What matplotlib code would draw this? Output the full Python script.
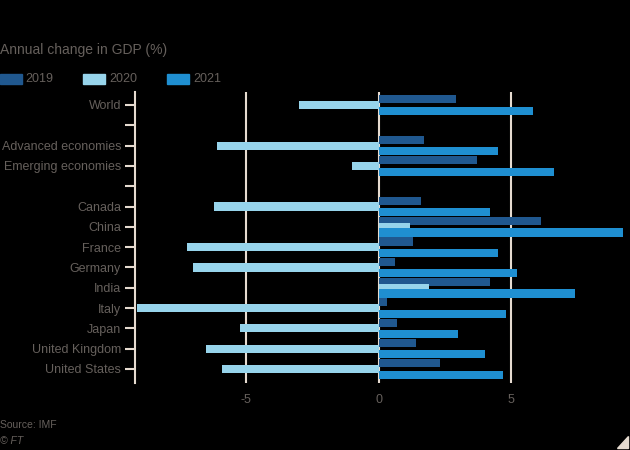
import matplotlib
matplotlib.use('Agg')
import matplotlib.pyplot as plt
from matplotlib.patches import Rectangle, Polygon
import numpy as np

# IMF GDP growth, % annual change
regions = ['World', '', 'Advanced economies', 'Emerging economies', '',
           'Canada', 'China', 'France', 'Germany', 'India', 'Italy',
           'Japan', 'United Kingdom', 'United States']
g2019 = [2.9, np.nan, 1.7, 3.7, np.nan, 1.6, 6.1, 1.3, 0.6, 4.2, 0.3, 0.7, 1.4, 2.3]
g2020 = [-3.0, np.nan, -6.1, -1.0, np.nan, -6.2, 1.2, -7.2, -7.0, 1.9, -9.1, -5.2, -6.5, -5.9]
g2021 = [5.8, np.nan, 4.5, 6.6, np.nan, 4.2, 9.2, 4.5, 5.2, 7.4, 4.8, 3.0, 4.0, 4.7]
years = ['2019', '2020', '2021']
colors = ['#20588f', '#97d4eb', '#1f8fd1']
xticks = [-5, 0, 5]

bg = 'black'
txt = '#66605c'
grid = '#e6dbd0'

plt.rcParams['font.family'] = ['Liberation Sans', 'DejaVu Sans']

fig = plt.figure(figsize=(6.3, 4.5), dpi=100, facecolor=bg)
ax = fig.add_axes([135/630, 1-383/450, (627-135)/630, (383-92)/450])
ax.set_facecolor(bg)

y = np.arange(len(regions))
off = 0.28
h = 0.40
for i, (vals, c) in enumerate(zip([g2019, g2020, g2021], colors)):
    ax.barh(y + (i-1)*off, vals, height=h, color=c, zorder=3)

ax.set_xlim(-9.17, 9.35)
ax.set_ylim(13.69, -0.64)
ax.set_yticks(y)
ax.set_yticklabels(regions, color=txt, fontsize=9)
ax.set_xticks(xticks)
ax.set_xticklabels([str(v) for v in xticks], color=txt, fontsize=9)
for v in xticks:
    ax.axvline(v, color=grid, lw=1.5, zorder=1)
ax.tick_params(axis='y', length=7, width=1.5, color=grid, pad=3)
ax.tick_params(axis='x', length=0, pad=8)
for s in ['top', 'right', 'bottom']:
    ax.spines[s].set_visible(False)
ax.spines['left'].set_color(grid)
ax.spines['left'].set_linewidth(1.5)

fig.text(0, 1-50/450, 'Annual change in GDP (%)', color=txt, fontsize=10,
         va='center', ha='left')
sw = [(0, 25), (83, 109), (167, 193)]
for (x0, xl), yr, c in zip(sw, years, colors):
    fig.patches.append(Rectangle((x0/630, 1-84/450), 22/630, 10/450,
                                 transform=fig.transFigure, color=c))
    fig.text(xl/630, 1-79/450, yr, color=txt, fontsize=9, va='center', ha='left')

fig.text(0, 1-425/450, 'Source: IMF', color=txt, fontsize=7.5, va='center', ha='left')
fig.text(0, 1-441/450, '© FT', color=txt, fontsize=7.5, va='center', ha='left',
         style='italic')
fig.patches.append(Polygon([(617/630, 1-448/450), (628/630, 1-448/450), (628/630, 1-436/450)],
                           closed=True, transform=fig.transFigure, color=grid))

fig.savefig('out.png', dpi=100, facecolor=bg)
